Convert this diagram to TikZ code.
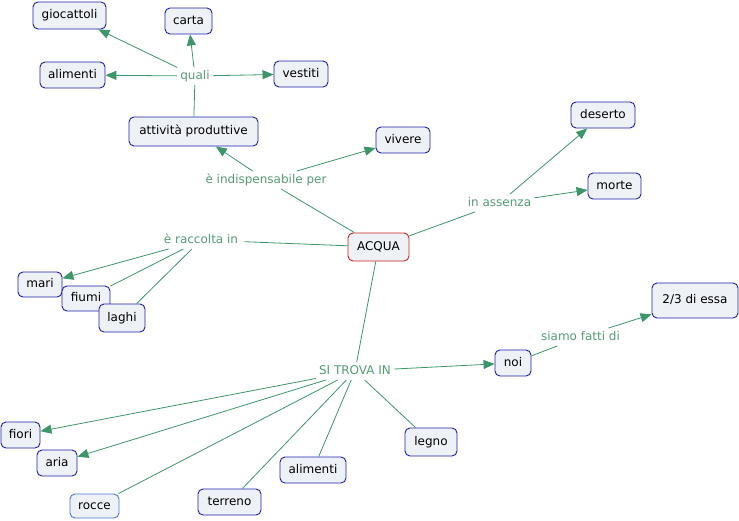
\documentclass[tikz,border=0pt]{standalone}
\usepackage{fontspec}
\setmainfont{DejaVu Sans}
\usetikzlibrary{arrows.meta}
\definecolor{edgegreen}{RGB}{60,150,105}
\definecolor{labgreen}{RGB}{85,155,115}
\definecolor{boxfill}{RGB}{238,242,246}
\definecolor{boxblue}{RGB}{30,30,170}
\definecolor{boxred}{RGB}{200,35,35}
\definecolor{boxlight}{RGB}{80,115,215}
\tikzset{
  concept/.style={draw=boxblue, line width=0.9pt, fill=boxfill, rounded corners=5pt,
    inner xsep=0pt, inner ysep=0pt, text height=9pt, text depth=2.5pt, text=black},
  linklabel/.style={text=labgreen, inner xsep=3pt, inner ysep=3pt, text height=9pt, text depth=2.5pt},
  conn/.style={draw=edgegreen, line width=0.8pt},
  arr/.style={conn, -{Triangle[length=11pt,width=9pt]}},
}
\begin{document}
\begin{tikzpicture}[x=1pt,y=-1pt,font=\fontsize{12}{14}\selectfont]
\useasboundingbox (0,0) rectangle (739,520);
% concepts
\node[concept, minimum width=73pt, minimum height=27pt] (gioc) at (69.5,15.5) {giocattoli};
\node[concept, minimum width=47pt, minimum height=26pt] (carta) at (188.5,21) {carta};
\node[concept, minimum width=65pt, minimum height=26pt] (alimA) at (72.5,75) {alimenti};
\node[concept, minimum width=54pt, minimum height=26pt] (vest) at (301,74) {vestiti};
\node[concept, minimum width=129pt, minimum height=29pt] (att) at (193.5,131.5) {attività produttive};
\node[concept, minimum width=54pt, minimum height=26pt] (viv) at (403,140) {vivere};
\node[concept, minimum width=64pt, minimum height=26pt] (des) at (603,115) {deserto};
\node[concept, minimum width=53pt, minimum height=26pt] (mor) at (614.5,186) {morte};
\node[concept, draw=boxred, minimum width=61pt, minimum height=28pt] (acqua) at (378.5,247) {ACQUA};
\node[concept, minimum width=44pt, minimum height=25pt] (mari) at (40,284.5) {mari};
\node[concept, minimum width=48pt, minimum height=25pt] (fiumi) at (86,298.5) {fiumi};
\node[concept, minimum width=46pt, minimum height=28pt] (laghi) at (122,318) {laghi};
\node[concept, minimum width=36pt, minimum height=26pt] (noi) at (513,363) {noi};
\node[concept, minimum width=86pt, minimum height=35pt] (due) at (695,300.5) {2/3 di essa};
\node[concept, minimum width=39pt, minimum height=26pt] (fiori) at (20.5,435) {fiori};
\node[concept, minimum width=40pt, minimum height=26pt] (aria) at (57,463) {aria};
\node[concept, draw=boxlight, minimum width=49pt, minimum height=24pt] (rocce) at (94.5,506) {rocce};
\node[concept, minimum width=63pt, minimum height=26pt] (terr) at (229.5,502) {terreno};
\node[concept, minimum width=66pt, minimum height=26pt] (alimB) at (313,470) {alimenti};
\node[concept, minimum width=52pt, minimum height=28pt] (legno) at (431,442) {legno};
% link labels
\node[linklabel] (quali) at (195,76) {quali};
\node[linklabel] (indisp) at (266,180) {è indispensabile per};
\node[linklabel] (assenza) at (499.5,203) {in assenza};
\node[linklabel, inner xsep=6pt] (racc) at (201,240) {è raccolta in};
\node[linklabel] (trova) at (355,371) {SI TROVA IN};
\node[linklabel] (siamo) at (580.5,337) {siamo fatti di};
% connectors
\draw[conn] (att) -- (quali);
\draw[arr] (quali) -- (gioc);
\draw[arr] (quali) -- (carta);
\draw[arr] (quali) -- (alimA);
\draw[arr] (quali) -- (vest);
\draw[conn] (acqua) -- (indisp);
\draw[arr] (indisp) -- (att);
\draw[arr] (indisp) -- (viv);
\draw[conn] (acqua) -- (assenza);
\draw[arr] (assenza) -- (des);
\draw[arr] (assenza) -- (mor);
\draw[conn] (acqua) -- (racc);
\draw[arr] (racc) -- (mari);
\draw[conn] (racc) -- (fiumi);
\draw[conn] (racc) -- (laghi);
\draw[conn] (acqua) -- (trova);
\draw[arr] (trova) -- (noi);
\draw[arr] (trova) -- (fiori);
\draw[arr] (trova) -- (aria);
\draw[conn] (trova) -- (rocce);
\draw[conn] (trova) -- (terr);
\draw[conn] (trova) -- (alimB);
\draw[conn] (trova) -- (legno);
\draw[conn] (noi) -- (siamo);
\draw[arr] (siamo) -- (due);
\end{tikzpicture}
\end{document}
